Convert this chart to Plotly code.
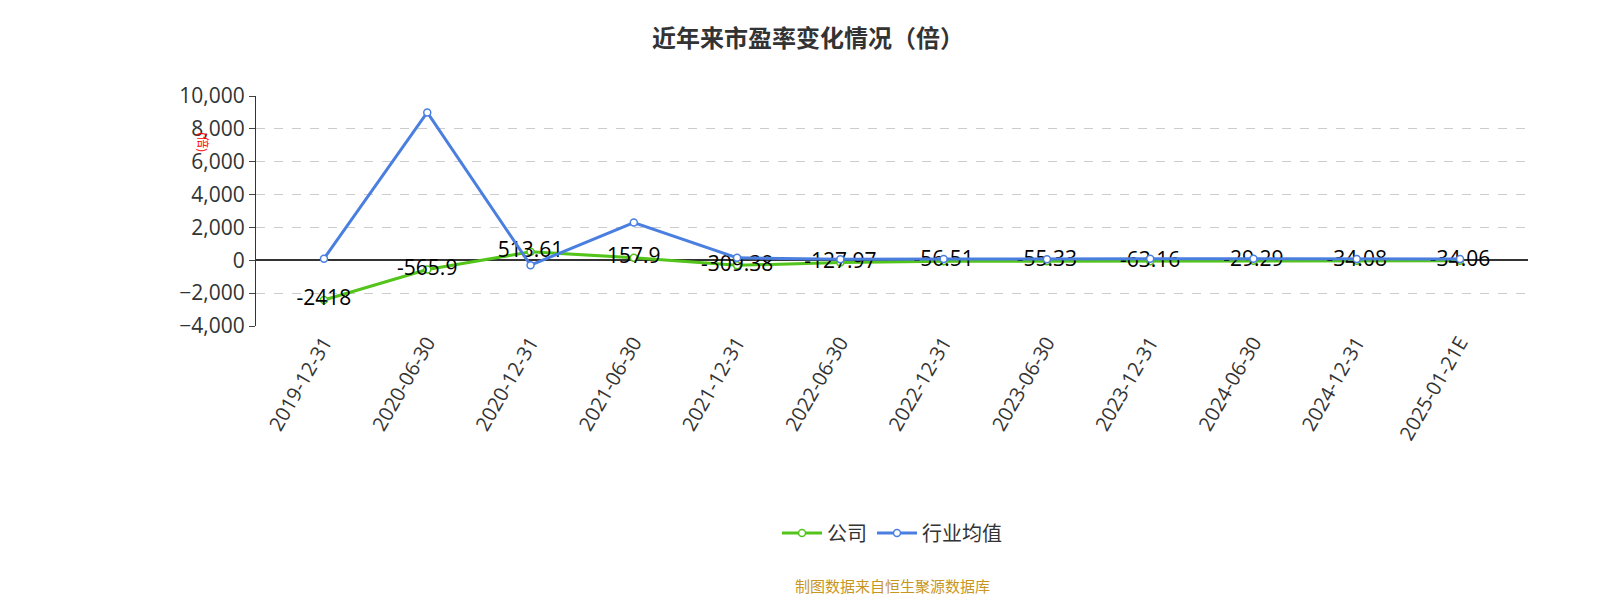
import plotly.graph_objects as go

dates = ['2019-12-31', '2020-06-30', '2020-12-31', '2021-06-30', '2021-12-31', '2022-06-30',
         '2022-12-31', '2023-06-30', '2023-12-31', '2024-06-30', '2024-12-31', '2025-01-21E']
company = [-2418, -565.9, 513.61, 157.9, -309.38, -127.97, -56.51, -55.33, -63.16, -29.29, -34.08, -34.06]
industry = [100, 9000, -300, 2300, 150, 60, 80, 70, 90, 100, 80, 80]
labels = ['-2418', '-565.9', '513.61', '157.9', '-309.38', '-127.97', '-56.51', '-55.33',
          '-63.16', '-29.29', '-34.08', '-34.06']

fig = go.Figure()
fig.add_trace(go.Scatter(
    x=dates, y=company, name='公司', mode='lines+markers+text',
    line=dict(color='#52c41a', width=3),
    marker=dict(size=7, color='white', line=dict(color='#52c41a', width=1.5)),
    text=labels, textposition='middle center',
    textfont=dict(size=21, color='black'),
))
fig.add_trace(go.Scatter(
    x=dates, y=industry, name='行业均值', mode='lines+markers',
    line=dict(color='#4a7fe0', width=3),
    marker=dict(size=7, color='white', line=dict(color='#4a7fe0', width=1.5)),
))

fig.update_layout(
    width=1600, height=600,
    plot_bgcolor='white', paper_bgcolor='white',
    font=dict(family='Open Sans, Noto Sans CJK SC', color='#333'),
    title=dict(text='<b>近年来市盈率变化情况（倍）</b>', x=0.5, y=0.963,
               font=dict(size=24, color='#333', family='Noto Sans CJK SC')),
    margin=dict(l=248, r=80, t=88, b=282),
    showlegend=True,
    legend=dict(orientation='h', x=0.5, xanchor='center', y=-0.9, yanchor='middle',
                font=dict(size=20, family='Noto Sans CJK SC'), itemwidth=40),
    xaxis=dict(type='category', showgrid=False, showline=False,
               ticks='', tickangle=-60, tickfont=dict(size=20, color='#333')),
    yaxis=dict(range=[-4000, 10000], dtick=2000, tickformat=',', showline=True,
               linecolor='#333', ticks='outside', ticklen=6, zeroline=True,
               zerolinecolor='#333', zerolinewidth=1.5,
               gridcolor='#ccc', griddash='dash', tickfont=dict(size=21, color='#333')),
    annotations=[
        dict(text='(倍)', x=-0.05, y=0.85, xref='paper', yref='paper', showarrow=False,
             textangle=90, font=dict(size=12, color='red')),
        dict(text='制图数据来自恒生聚源数据库', x=0.5, y=-1.13, xref='paper', yref='paper',
             showarrow=False, yanchor='middle',
             font=dict(size=15, color='#c8961e', family='Noto Sans CJK SC')),
    ],
)
fig.write_html('out.html')
